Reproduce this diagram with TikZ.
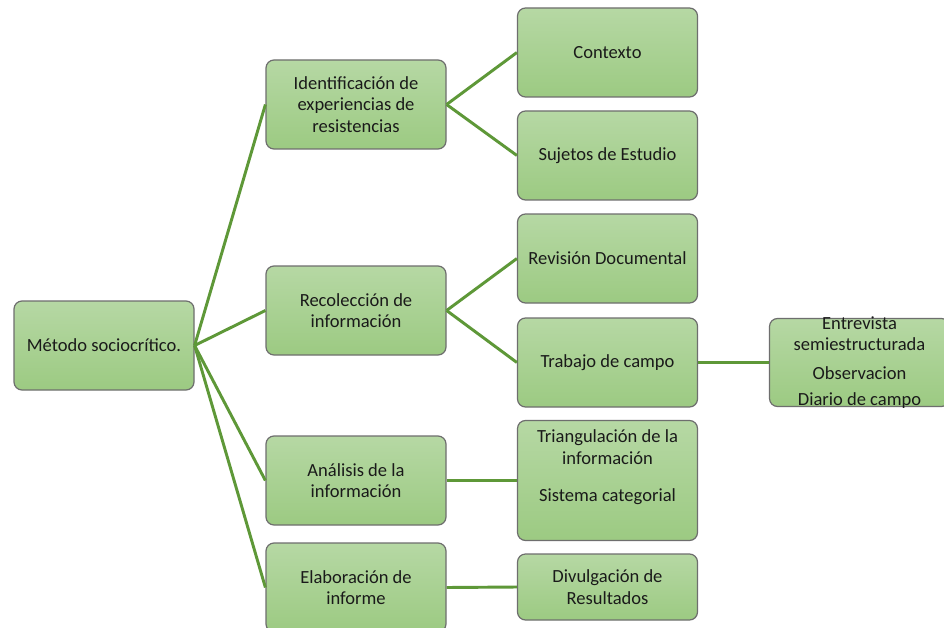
\documentclass[tikz,border=0pt]{standalone}
\usepackage{fontspec}
\setmainfont{Carlito}
\definecolor{gtop}{HTML}{B6D8A4}
\definecolor{gbot}{HTML}{9CCA82}
\definecolor{bordergray}{HTML}{6E6E6E}
\definecolor{linegreen}{HTML}{5E9838}
\definecolor{txt}{HTML}{1A1A1A}
\begin{document}
\begin{tikzpicture}[x=0.75pt,y=-0.75pt,
  box/.style={rectangle, rounded corners=6pt, draw=bordergray, line width=0.9pt,
    top color=gtop, bottom color=gbot, minimum width=135pt, minimum height=66.75pt,
    align=center, text=txt, inner sep=2pt,
    font=\fontsize{13.9pt}{16.2pt}\selectfont},
  lbl/.style={align=center, text=txt, inner sep=0pt, font=\fontsize{13.9pt}{16.2pt}\selectfont},
  conn/.style={draw=linegreen, line width=2.2pt}]
\clip (0,0) rectangle (944,627);
\fill[white] (0,0) rectangle (944,627);
% nodes
\node[box] (root) at (104,345.5) {Método sociocrítico.};
\node[box] (ident) at (356,104.5) {Identificación de\\experiencias de\\resistencias};
\node[box] (recol) at (356,310.5) {Recolección de\\información};
\node[box] (anal) at (356,480.5) {Análisis de la\\información};
\node[box] (elab) at (356,587.5) {Elaboración de\\informe};
\node[box] (cont) at (607.5,52.5) {Contexto};
\node[box] (suj) at (607.5,155.5) {Sujetos de Estudio};
\node[box] (rev) at (607.5,258.5) {Revisión Documental};
\node[box] (trab) at (607.5,362.5) {Trabajo de campo};
\node[box, minimum height=90pt] (tri) at (607.5,480.5) {};
\node[lbl] (tritxt) at (607.5,447) {Triangulación de la\\información};
\node[lbl] (sistxt) at (607.5,497) {Sistema categorial};
\node[box, minimum height=49.5pt] (div) at (607.5,587) {Divulgación de\\Resultados};
\node[box, minimum height=66pt] (entr) at (859.5,362.5) {};
\node[lbl] (entrtxt) at (859.5,333.5) {Entrevista\\semiestructurada};
\node[lbl] (obstxt) at (859.5,373.5) {Observacion};
\node[lbl] (diatxt) at (859.5,400.5) {Diario de campo};
% connectors
\draw[conn] (root.east) -- (ident.west);
\draw[conn] (root.east) -- (recol.west);
\draw[conn] (root.east) -- (anal.west);
\draw[conn] (root.east) -- (elab.west);
\draw[conn] (ident.east) -- (cont.west);
\draw[conn] (ident.east) -- (suj.west);
\draw[conn] (recol.east) -- (rev.west);
\draw[conn] (recol.east) -- (trab.west);
\draw[conn] (trab.east) -- (entr.west);
\draw[conn] (anal.east) -- (tri.west);
\draw[conn] (elab.east) -- (div.west);
\end{tikzpicture}
\end{document}
